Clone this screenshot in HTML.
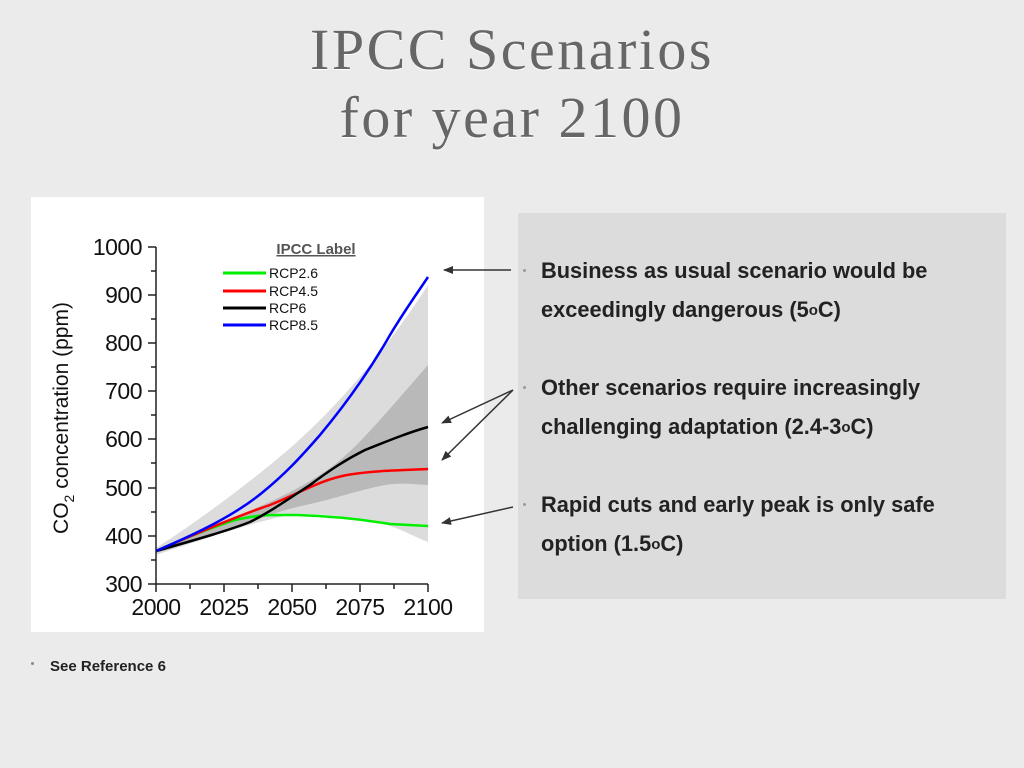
<!DOCTYPE html>
<html><head><meta charset="utf-8"><style>
body{margin:0;width:1024px;height:768px;background:#ebebeb;position:relative;overflow:hidden;font-family:"Liberation Sans",sans-serif}
.title{position:absolute;left:0;width:1024px;text-align:center;font-family:"Liberation Serif",serif;font-size:58px;letter-spacing:2.5px;color:#666;line-height:68px;top:16px;text-shadow:0 1px 0 #fff}
.box{position:absolute;left:518px;top:213px;width:488px;height:386px;background:#dcdcdd}
.t{position:absolute;left:541px;font-weight:bold;font-size:21.8px;color:#222;line-height:39px;white-space:nowrap}
.b{position:absolute;left:523px;width:3px;height:3px;background:#999;border-radius:50%}
</style></head><body>
<div class="title">IPCC Scenarios<br>for year 2100</div>
<div class="box"></div>
<div class="t" style="top:251px">Business as usual scenario would be<br>exceedingly dangerous (5<span style="font-size:15px;vertical-align:2px">o</span>C)</div>
<div class="t" style="top:368px">Other scenarios require increasingly<br>challenging adaptation (2.4-3<span style="font-size:15px;vertical-align:2px">o</span>C)</div>
<div class="t" style="top:485px">Rapid cuts and early peak is only safe<br>option (1.5<span style="font-size:15px;vertical-align:2px">o</span>C)</div>
<div class="b" style="top:269px"></div><div class="b" style="top:386px"></div><div class="b" style="top:503px"></div>
<div style="position:absolute;left:31px;top:662px;width:3px;height:3px;background:#888;border-radius:50%"></div>
<div style="position:absolute;left:50px;top:658px;font-weight:bold;font-size:15px;color:#222">See Reference 6</div>
<svg width="1024" height="768" style="position:absolute;left:0;top:0">
<defs><marker id="a" markerWidth="10" markerHeight="8" refX="9" refY="4" orient="auto" markerUnits="userSpaceOnUse"><path d="M0,0 L10,4 L0,8 z" fill="#333"/></marker></defs>
<rect x="31" y="197" width="453" height="435" fill="#fff"/>
<path d="M156,548 C200,520 260,475 297,442 C330,412 380,360 428,285 L428,542 C410,535 400,528 380,523 C350,517 320,512 290,515 C260,520 200,540 156,555 Z" fill="#dcdcdc"/>
<path d="M156,550 C200,530 240,515 263,505 C290,493 310,482 330,468 C355,450 380,420 428,365 L428,485 C410,484 400,482 380,486 C360,490 330,500 297,507 C260,516 230,532 156,553 Z" fill="#b9b9b9"/>
<g fill="none" stroke-width="2.5" stroke-linejoin="round">
<path stroke="#00ee00" d="M156,551 C185,538 210,528 235,520 C260,514 275,515 297,515 C330,516 360,519 390,524 L428,526"/>
<path stroke="#ff0000" d="M156,551 C200,532 240,515 270,505 C300,493 320,480 347,475 C370,471 400,470 428,469"/>
<path stroke="#000" d="M156,551 C195,540 230,530 250,522 C270,512 290,498 310,485 C330,470 345,460 365,450 C390,440 410,432 428,427"/>
<path stroke="#0000ff" d="M156,551 C200,532 235,515 263,492 C285,474 300,458 320,435 C345,405 370,370 390,335 C405,310 418,292 428,277"/>
</g>
<g stroke="#222" stroke-width="1.5" fill="none">
<path d="M156,247 V584 H428"/>
<path d="M148,247H156M148,295H156M148,343H156M148,391H156M148,439H156M148,488H156M148,536H156M148,584H156"/>
<path d="M151,271H156M151,319H156M151,367H156M151,415H156M151,463H156M151,512H156M151,560H156"/>
<path d="M156,584V592M224,584V592M292,584V592M360,584V592M428,584V592M190,584V589M258,584V589M326,584V589M394,584V589"/>
</g>
<g font-size="23" fill="#111" text-anchor="end" font-family="Liberation Sans,sans-serif" letter-spacing="-0.5">
<text x="142" y="255">1000</text><text x="142" y="303">900</text><text x="142" y="351">800</text><text x="142" y="399">700</text><text x="142" y="447">600</text><text x="142" y="496">500</text><text x="142" y="544">400</text><text x="142" y="592">300</text>
</g>
<g font-size="23" fill="#111" text-anchor="middle" font-family="Liberation Sans,sans-serif" letter-spacing="-0.5">
<text x="156" y="615">2000</text><text x="224" y="615">2025</text><text x="292" y="615">2050</text><text x="360" y="615">2075</text><text x="428" y="615">2100</text>
</g>
<text transform="translate(68,418) rotate(-90)" text-anchor="middle" font-size="21" fill="#111">CO<tspan font-size="14" dy="6">2</tspan><tspan dy="-6"> concentration (ppm)</tspan></text>
<text x="316" y="254" text-anchor="middle" font-size="15" font-weight="bold" fill="#555" text-decoration="underline">IPCC Label</text>
<g stroke-width="3"><line x1="223" y1="273" x2="266" y2="273" stroke="#00ee00"/><line x1="223" y1="291" x2="266" y2="291" stroke="#ff0000"/><line x1="223" y1="308" x2="266" y2="308" stroke="#000"/><line x1="223" y1="325" x2="266" y2="325" stroke="#0000ff"/></g>
<g font-size="14" fill="#111"><text x="269" y="278">RCP2.6</text><text x="269" y="296">RCP4.5</text><text x="269" y="313">RCP6</text><text x="269" y="330">RCP8.5</text></g>
<g stroke="#333" stroke-width="1.5" marker-end="url(#a)">
<line x1="511" y1="270" x2="444" y2="270"/>
<line x1="513" y1="390" x2="442" y2="423"/>
<line x1="513" y1="390" x2="442" y2="460"/>
<line x1="513" y1="507" x2="442" y2="523"/>
</g>
</svg>
</body></html>
